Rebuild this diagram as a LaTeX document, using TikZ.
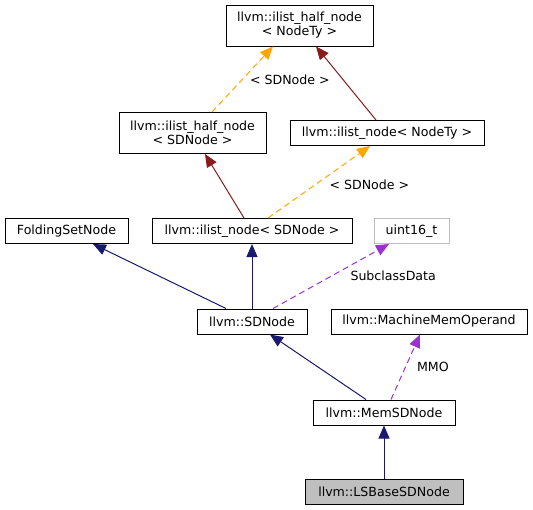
\documentclass[tikz,border=0pt]{standalone}
\usepackage{fontspec}
\setmainfont{DejaVu Sans}
\usetikzlibrary{arrows.meta}

\definecolor{inhblue}{HTML}{191970}
\definecolor{tplred}{HTML}{8B1A1A}
\definecolor{tplorange}{HTML}{FFA500}
\definecolor{usepurple}{HTML}{9A32CD}
\definecolor{boxgray}{HTML}{BFBFBF}

\tikzset{
cls/.style={
  draw=black,
  fill=white,
  rectangle,
  line width=1pt,
  inner sep=0pt,
  minimum height=25pt,
  align=center,
  font=\fontsize{12.6}{14}\selectfont,
},
clstwo/.style={cls, minimum height=41pt},
extcls/.style={cls, draw=boxgray},
curcls/.style={cls, fill=boxgray},
pubinh/.style={draw=inhblue, line width=1pt, -{Triangle[length=13pt,width=11pt]}},
tplinh/.style={draw=tplred, line width=1pt, -{Triangle[length=13pt,width=11pt]}},
tplinst/.style={draw=tplorange, line width=1pt, dash pattern=on 6pt off 4pt,
  -{Triangle[length=13pt,width=11pt]}},
usage/.style={draw=usepurple, line width=1pt, dash pattern=on 6pt off 4pt,
  -{Triangle[length=13pt,width=11pt]}},
elabel/.style={font=\fontsize{12.6}{14}\selectfont, inner sep=1pt, anchor=west},
}

\begin{document}
\begin{tikzpicture}[x=1pt,y=-1pt]
\useasboundingbox (0,0) rectangle (533,509);
                  % top row
\node[clstwo, minimum width=147pt] (halfnt) at (299.5,25.5) {llvm::ilist\_half\_node\\< NodeTy >};
                  % second row
\node[clstwo, minimum width=147pt] (halfsd) at (192.5,133) {llvm::ilist\_half\_node\\< SDNode >};
\node[cls, minimum width=194pt] (nodent) at (387,133) {llvm::ilist\_node< NodeTy >};
                  % third row
\node[cls, minimum width=123pt] (fsn) at (66.5,231) {FoldingSetNode};
\node[cls, minimum width=200pt] (nodesd) at (252,231) {llvm::ilist\_node< SDNode >};
\node[extcls, minimum width=75pt] (uint) at (411.5,231) {uint16\_t};
                  % fourth row
\node[cls, minimum width=110pt] (sdnode) at (252,321.5) {llvm::SDNode};
\node[cls, minimum width=196pt] (mmo) at (429,321.5) {llvm::MachineMemOperand};
                  % bottom rows
\node[cls, minimum width=142pt] (memsd) at (384,412.5) {llvm::MemSDNode};
\node[curcls, minimum width=158pt] (lsbase) at (384,491.5) {llvm::LSBaseSDNode};

                  % templates
\draw[tplinst] ([xshift=19.5pt]halfsd.north) -- ([xshift=-26.5pt]halfnt.south)
  node[elabel, pos=.5, xshift=6pt, yshift=-1pt] {< SDNode >};
\draw[tplinh] ([xshift=-11pt]nodent.north) -- ([xshift=16.5pt]halfnt.south);
\draw[tplinst] ([xshift=16pt]nodesd.north) -- ([xshift=-17pt]nodent.south)
  node[elabel, pos=.5, xshift=9pt, yshift=-3pt] {< SDNode >};
\draw[tplinh] ([xshift=-8pt]nodesd.north) -- ([xshift=12.5pt]halfsd.south);
                  % inheritance
\draw[pubinh] ([xshift=-26pt]sdnode.north) -- ([xshift=26.5pt]fsn.south);
\draw[pubinh] (sdnode.north) -- (nodesd.south);
\draw[pubinh] ([xshift=-18pt]memsd.north) -- ([xshift=18pt]sdnode.south);
\draw[pubinh] (lsbase.north) -- (memsd.south);
                  % members
\draw[usage] ([xshift=21pt]sdnode.north) -- ([xshift=-22.5pt]uint.south)
  node[elabel, pos=.5, xshift=18pt] {SubclassData};
\draw[usage] ([xshift=7pt]memsd.north) -- ([xshift=-9pt]mmo.south)
  node[elabel, pos=.5, xshift=10pt] {MMO};
\end{tikzpicture}
\end{document}
